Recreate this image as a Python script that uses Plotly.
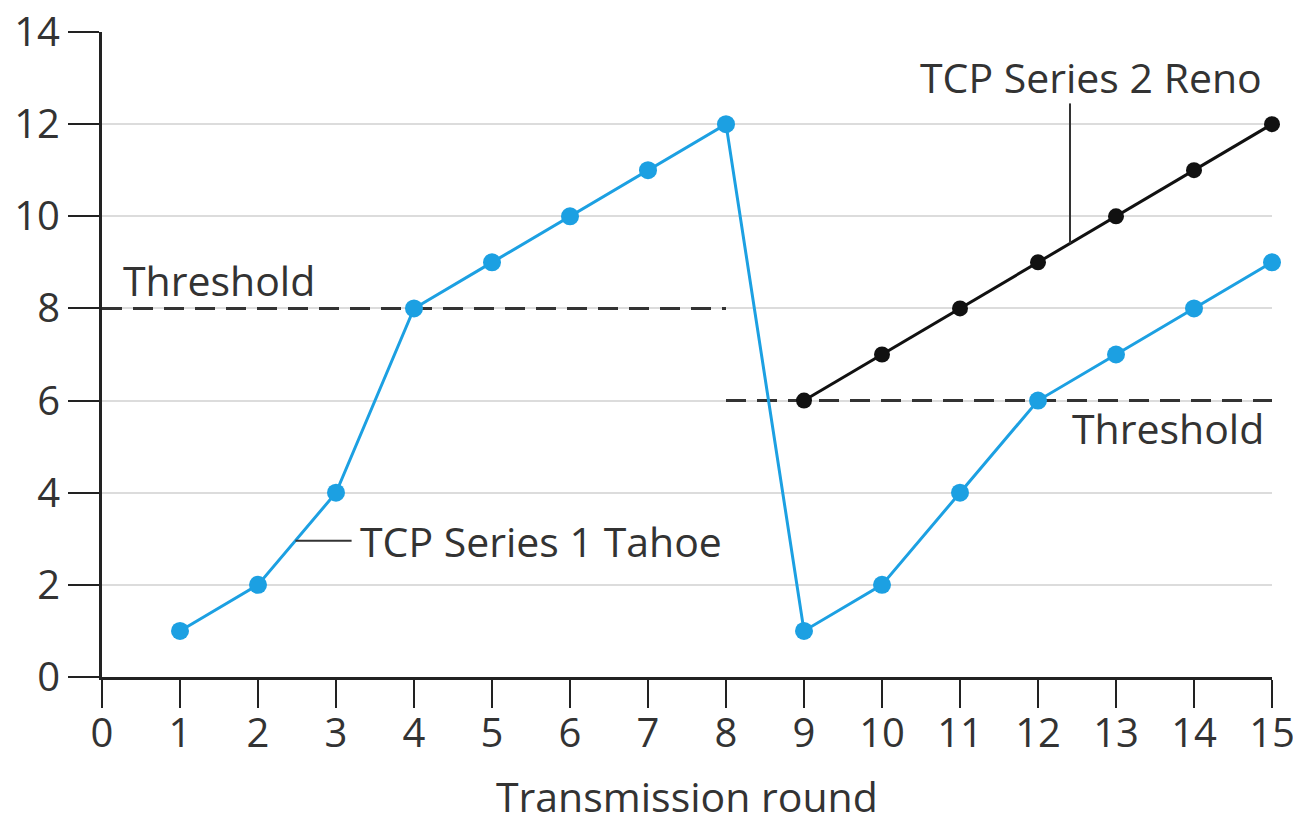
import plotly.graph_objects as go

# Data
rounds_tahoe = list(range(1, 16))
cwnd_tahoe = [1, 2, 4, 8, 9, 10, 11, 12, 1, 2, 4, 6, 7, 8, 9]
rounds_reno = list(range(9, 16))
cwnd_reno = [6, 7, 8, 9, 10, 11, 12]
threshold1_x = [0, 8]
threshold1_y = [8, 8]
threshold2_x = [8, 15]
threshold2_y = [6, 6]
x_ticks = list(range(0, 16))
y_ticks = list(range(0, 15, 2))

FONT = "Open Sans"
TXT = "#333333"
BLUE = "#1ca0e2"

fig = go.Figure()

fig.add_trace(go.Scatter(x=threshold1_x, y=threshold1_y, mode="lines",
                         line=dict(color="#333333", width=3, dash="20px,11px"),
                         hoverinfo="skip", showlegend=False))
fig.add_trace(go.Scatter(x=threshold2_x, y=threshold2_y, mode="lines",
                         line=dict(color="#333333", width=3, dash="20px,11px"),
                         hoverinfo="skip", showlegend=False))
fig.add_trace(go.Scatter(x=rounds_reno, y=cwnd_reno, mode="lines+markers",
                         line=dict(color="#111111", width=3),
                         marker=dict(color="#111111", size=16, symbol="circle"),
                         cliponaxis=False, showlegend=False, name="TCP Series 2 Reno"))
fig.add_trace(go.Scatter(x=rounds_tahoe, y=cwnd_tahoe, mode="lines+markers",
                         line=dict(color=BLUE, width=3),
                         marker=dict(color=BLUE, size=18, symbol="circle"),
                         cliponaxis=False, showlegend=False, name="TCP Series 1 Tahoe"))

# leader lines
fig.add_shape(type="line", x0=2.48, y0=2.96, x1=3.2, y1=2.96,
              line=dict(color="#333333", width=2), layer="above")
fig.add_shape(type="line", x0=12.41, y0=9.41, x1=12.41, y1=12.45,
              line=dict(color="#333333", width=2), layer="above")

ann_font = dict(family=FONT, size=41, color=TXT)
fig.add_annotation(x=3.28, y=2.96, text="TCP Series 1 Tahoe", showarrow=False,
                   xanchor="left", yanchor="middle", font=ann_font)
fig.add_annotation(x=14.9, y=13.02, text="TCP Series 2 Reno", showarrow=False,
                   xanchor="right", yanchor="middle", font=ann_font)
fig.add_annotation(x=0.24, y=8.62, text="Threshold", showarrow=False,
                   xanchor="left", yanchor="middle", font=ann_font)
fig.add_annotation(x=14.92, y=5.4, text="Threshold", showarrow=False,
                   xanchor="right", yanchor="middle", font=ann_font)
fig.add_annotation(x=0.5, xref="paper", y=-0.185, yref="paper",
                   text="Transmission round", showarrow=False,
                   xanchor="center", yanchor="middle", font=ann_font)

# page body has an 8px default margin, so size/margins compensate for it
fig.update_layout(
    width=1293, height=816,
    margin=dict(l=94, r=29, t=24, b=147),
    paper_bgcolor="white", plot_bgcolor="white",
    font=dict(family=FONT, color=TXT, size=40),
    xaxis=dict(range=[0, 15], tickvals=x_ticks, ticks="outside", ticklen=28,
               tickwidth=2, tickcolor="#222222", showline=True, linewidth=3,
               linecolor="#222222", showgrid=False, zeroline=False,
               automargin=False, ticklabeloverflow="allow",
               ticklabelstandoff=-9,
               tickfont=dict(family=FONT, size=40, color=TXT)),
    yaxis=dict(range=[0, 14], tickvals=y_ticks, ticks="outside", ticklen=31,
               tickwidth=2, tickcolor="#222222", showline=True, linewidth=3,
               linecolor="#222222", showgrid=True, gridcolor="#dcdcdc",
               gridwidth=2, zeroline=False, automargin=False,
               ticklabeloverflow="allow",
               tickfont=dict(family=FONT, size=40, color=TXT)),
)

fig.write_html("out.html")
